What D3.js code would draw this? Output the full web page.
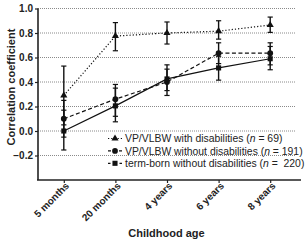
<!DOCTYPE html>
<html>
<head>
<meta charset="utf-8">
<script src="https://cdn.jsdelivr.net/npm/d3@7"></script>
<style>
  body { margin: 0; background: #fff; }
  svg { font-family: "Liberation Sans", Arial, sans-serif; }
</style>
</head>
<body>
<div id="chart"></div>
<script>
// Chart data
const ages = ["5 months", "20 months", "4 years", "6 years", "8 years"];
const yTicks = [-0.2, 0, 0.2, 0.4, 0.6, 0.8, 1.0];

// VP/VLBW with disabilities (n = 69)
const withDis = [0.29, 0.775, 0.80, 0.815, 0.865];
const withDisLo = [0.05, 0.655, 0.71, 0.75, 0.805];
const withDisHi = [0.53, 0.885, 0.89, 0.90, 0.93];

// VP/VLBW without disabilities (n = 191)
const withoutDis = [0.10, 0.26, 0.40, 0.635, 0.635];
const withoutDisLo = [-0.05, 0.12, 0.29, 0.55, 0.54];
const withoutDisHi = [0.25, 0.38, 0.505, 0.72, 0.72];

// term-born without disabilities (n = 220)
const termBorn = [0.0, 0.205, 0.425, 0.515, 0.59];
const termBornLo = [-0.155, 0.075, 0.33, 0.415, 0.50];
const termBornHi = [0.17, 0.35, 0.54, 0.61, 0.69];

const W = 308, H = 242;
const svg = d3.select("#chart").append("svg")
    .attr("width", W)
    .attr("height", H);

const x = d3.scalePoint()
    .domain(ages)
    .range([38, 296])
    .padding(0.5);

const y = d3.scaleLinear()
    .domain([-0.4, 1.0])
    .range([180, 8.5]);

// dotted grid lines
svg.append("g")
  .selectAll("line")
  .data(yTicks)
  .enter().append("line")
    .attr("x1", 38)
    .attr("x2", 296)
    .attr("y1", d => y(d))
    .attr("y2", d => y(d))
    .attr("stroke", "#8a8a8a")
    .attr("stroke-width", 1)
    .attr("stroke-dasharray", "1,1");

// Y axis
const yAxis = svg.append("g")
    .attr("transform", "translate(38,0)")
    .call(d3.axisLeft(y).tickValues(yTicks).tickSize(3).tickPadding(2)
      .tickFormat(d3.format(".1f")));
yAxis.select(".domain").attr("d", `M0,${y(1.0)}V${y(-0.4)}`);

// X axis
const xAxis = svg.append("g")
    .attr("transform", "translate(0,180)")
    .call(d3.axisBottom(x).tickSize(3).tickSizeOuter(0));
xAxis.select(".domain").attr("d", "M37,0H301");
xAxis.selectAll("text")
    .attr("transform", "translate(3,4) rotate(-45)")
    .attr("text-anchor", "end")
    .attr("dy", "0.35em")
    .attr("y", 0)
    .attr("x", 0);

[yAxis, xAxis].forEach(a => {
  a.select(".domain").attr("stroke", "#222").attr("stroke-width", 1.6);
  a.selectAll(".tick line").attr("stroke", "#222").attr("stroke-width", 1.2);
  a.selectAll("text")
    .attr("fill", "#222")
    .style("font-size", "10px")
    .style("font-weight", "bold")
    .style("font-family", "'Liberation Sans', Arial, sans-serif");
});

// axis titles
svg.append("text")
    .attr("transform", "translate(15,87) rotate(-90)")
    .attr("text-anchor", "middle")
    .style("font-size", "11px")
    .style("font-weight", "bold")
    .attr("fill", "#222")
    .text("Correlation coefficient");

svg.append("text")
    .attr("x", 166.5)
    .attr("y", 237)
    .attr("text-anchor", "middle")
    .style("font-size", "11px")
    .style("font-weight", "bold")
    .attr("fill", "#222")
    .text("Childhood age");

const series = [
  { name: "VP/VLBW with disabilities", n: "69", vals: withDis, lo: withDisLo, hi: withDisHi, dash: "1.2,2", shape: d3.symbolTriangle, size: 22 },
  { name: "VP/VLBW without disabilities", n: "191", vals: withoutDis, lo: withoutDisLo, hi: withoutDisHi, dash: "4,2.5", shape: d3.symbolCircle, size: 26 },
  { name: "term-born without disabilities", n: " 220", vals: termBorn, lo: termBornLo, hi: termBornHi, dash: null, shape: d3.symbolSquare, size: 26 }
];

const line = d3.line()
    .x(d => x(d.age))
    .y(d => y(d.v));

series.forEach(s => {
  const pts = ages.map((a, i) => ({ age: a, v: s.vals[i], lo: s.lo[i], hi: s.hi[i] }));
  const g = svg.append("g");

  // error bars
  const eb = g.selectAll(".eb").data(pts).enter().append("g");
  eb.append("line")
    .attr("x1", d => x(d.age)).attr("x2", d => x(d.age))
    .attr("y1", d => y(d.lo)).attr("y2", d => y(d.hi))
    .attr("stroke", "#111").attr("stroke-width", 1.4);
  eb.append("line")
    .attr("x1", d => x(d.age) - 2.6).attr("x2", d => x(d.age) + 2.6)
    .attr("y1", d => y(d.hi)).attr("y2", d => y(d.hi))
    .attr("stroke", "#111").attr("stroke-width", 1.2);
  eb.append("line")
    .attr("x1", d => x(d.age) - 2.6).attr("x2", d => x(d.age) + 2.6)
    .attr("y1", d => y(d.lo)).attr("y2", d => y(d.lo))
    .attr("stroke", "#111").attr("stroke-width", 1.2);

  g.append("path")
    .datum(pts)
    .attr("fill", "none")
    .attr("stroke", "#111")
    .attr("stroke-width", 1.2)
    .attr("stroke-dasharray", s.dash)
    .attr("d", line);

  g.selectAll(".pt").data(pts).enter().append("path")
    .attr("transform", d => `translate(${x(d.age)},${y(d.v)})`)
    .attr("d", d3.symbol().type(s.shape).size(s.size))
    .attr("fill", "#111");
});

// legend
const legend = svg.append("g").attr("transform", "translate(115,138.5)");
series.forEach((s, i) => {
  const row = legend.append("g").attr("transform", `translate(0,${i * 12.4})`);
  row.append("line")
    .attr("x1", -7).attr("x2", 7)
    .attr("stroke", "#111").attr("stroke-width", 1.2)
    .attr("stroke-dasharray", s.dash ? (i === 0 ? "1.2,2" : "3,8") : "2.5,9");
  row.append("path")
    .attr("d", d3.symbol().type(s.shape).size(s.size))
    .attr("fill", "#111");
  const t = row.append("text")
    .attr("x", 10)
    .attr("dy", "0.35em")
    .style("font-size", "10.4px")
    .style("white-space", "pre")
    .attr("fill", "#222");
  t.append("tspan").text(s.name + " (");
  t.append("tspan").style("font-style", "italic").text("n");
  t.append("tspan").text(" = " + s.n + ")");
});
</script>
</body>
</html>
